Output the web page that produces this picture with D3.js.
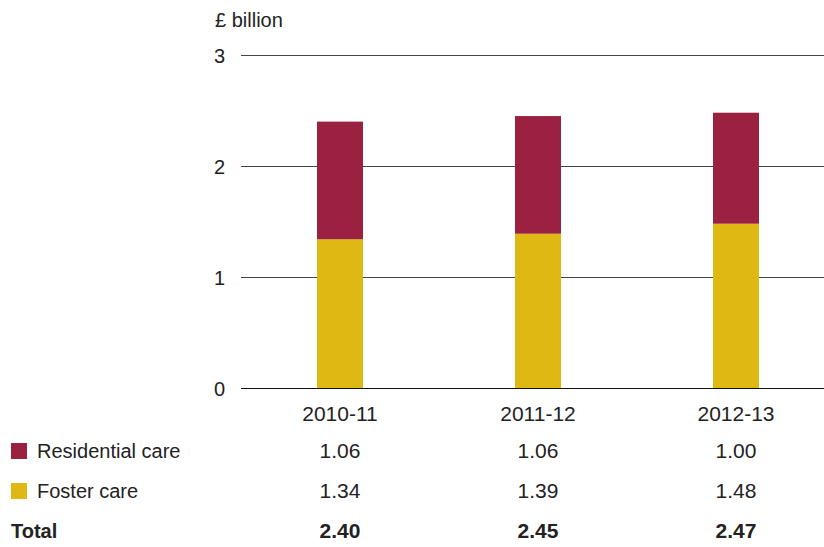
<!DOCTYPE html>
<html>
<head>
<meta charset="utf-8">
<script src="https://cdn.jsdelivr.net/npm/d3@7"></script>
<style>
  body { margin: 0; background: #fff; }
  svg text { font-family: "Liberation Sans", Arial, sans-serif; fill: #222; }
</style>
</head>
<body>
<svg id="chart" width="824" height="547"></svg>
<script>
// Spending on looked-after children, £ billion
const years = ["2010-11", "2011-12", "2012-13"];
const residential = [1.06, 1.06, 1.00];
const foster = [1.34, 1.39, 1.48];
const totals = ["2.40", "2.45", "2.47"];
const yTicks = [0, 1, 2, 3];
const seriesNames = ["Residential care", "Foster care"];
const seriesColors = ["#9b2140", "#e0b814"];

const svg = d3.select("#chart");

const x = d3.scalePoint().domain(years).range([241, 835]).padding(0.5);
const y = d3.scaleLinear().domain([0, 3]).range([388, 55]);
const barW = 46;

// gridlines and tick labels
const yAxis = d3.axisLeft(y).tickValues(yTicks).tickSize(0).tickFormat(d3.format("d"));
const gAxis = svg.append("g").attr("transform", "translate(241,0)").call(yAxis);
gAxis.select(".domain").remove();
gAxis.selectAll(".tick text")
  .attr("x", -16).attr("dy", "0.36em")
  .style("font-size", "20px").style("font-family", "Liberation Sans, Arial, sans-serif").attr("fill", "#222");
gAxis.selectAll(".tick").append("line")
  .attr("x1", 0).attr("x2", 600)
  .attr("stroke", d => d === 0 ? "#111" : "#444").attr("stroke-width", 1);

svg.append("text").attr("x", 215).attr("y", 27).style("font-size", "20px").text("£ billion");

// stacked bars: foster care at the base, residential care on top
const rows = years.map((yr, i) => ({ yr, foster: foster[i], residential: residential[i] }));
const stack = d3.stack().keys(["foster", "residential"]);
const layers = stack(rows);
const colorOf = { residential: seriesColors[0], foster: seriesColors[1] };

svg.append("g").selectAll("g").data(layers).join("g")
  .attr("fill", d => colorOf[d.key])
  .selectAll("rect").data(d => d).join("rect")
  .attr("x", d => x(d.data.yr) - barW / 2)
  .attr("width", barW)
  .attr("y", d => y(d[1]))
  .attr("height", d => y(d[0]) - y(d[1]));

// category labels
svg.append("g").selectAll("text").data(years).join("text")
  .attr("x", d => x(d)).attr("y", 421)
  .attr("text-anchor", "middle").style("font-size", "21px").text(d => d);

// data table below the chart
const tableRows = [
  { label: seriesNames[0], color: seriesColors[0], vals: residential.map(v => v.toFixed(2)), y: 458, bold: false },
  { label: seriesNames[1], color: seriesColors[1], vals: foster.map(v => v.toFixed(2)), y: 498, bold: false },
  { label: "Total", color: null, vals: totals, y: 538, bold: true }
];

tableRows.forEach(r => {
  if (r.color) {
    svg.append("rect").attr("x", 11).attr("y", r.y - 15).attr("width", 16).attr("height", 16).attr("fill", r.color);
    svg.append("text").attr("x", 37).attr("y", r.y).style("font-size", "20px").text(r.label);
  } else {
    svg.append("text").attr("x", 11).attr("y", r.y).style("font-size", "20px").style("font-weight", "bold").text(r.label);
  }
  svg.append("g").selectAll("text").data(r.vals).join("text")
    .attr("x", (d, i) => x(years[i])).attr("y", r.y)
    .attr("text-anchor", "middle").style("font-size", "21px")
    .style("font-weight", r.bold ? "bold" : "normal")
    .text(d => d);
});
</script>
</body>
</html>
